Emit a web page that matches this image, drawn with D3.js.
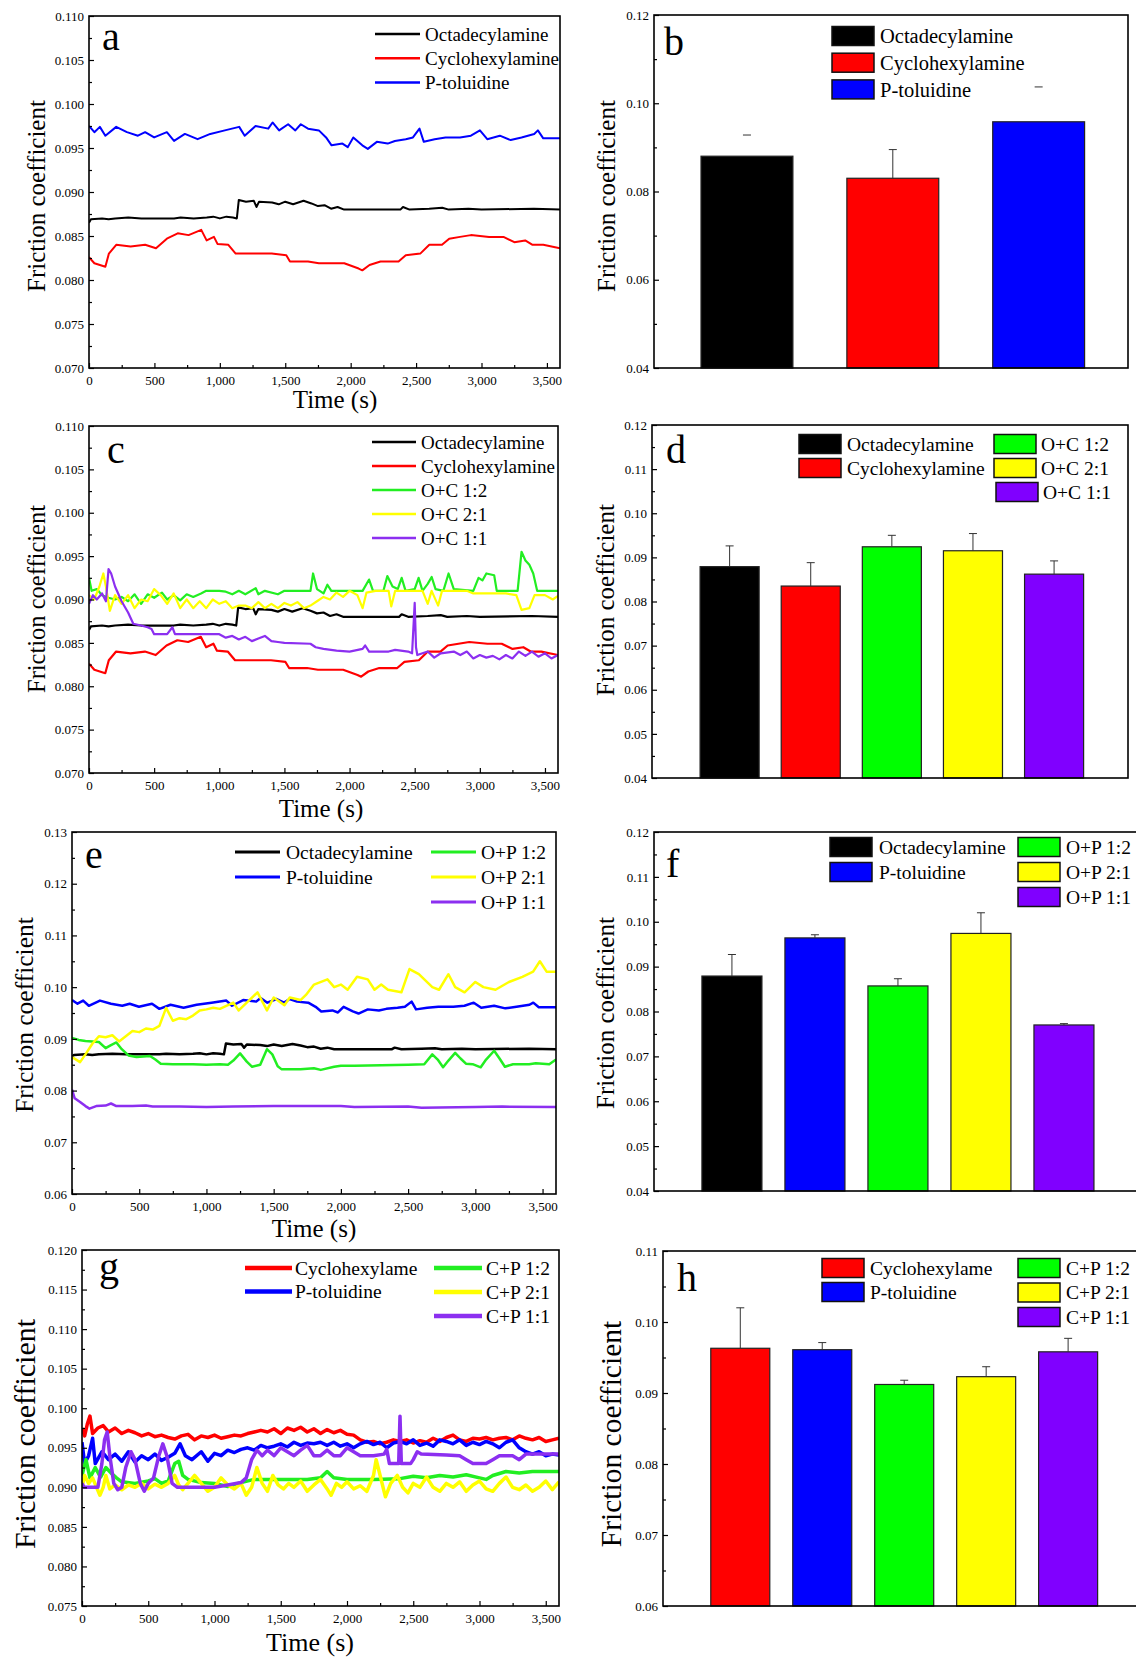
<!DOCTYPE html>
<html>
<head>
<meta charset="utf-8">
<script src="https://cdn.jsdelivr.net/npm/d3@7"></script>
<style>
body { margin: 0; background: #fff; }
svg text { font-family: "Liberation Serif", "Times New Roman", serif; fill: #000; }
</style>
</head>
<body>
<svg id="fig" width="1136" height="1657"></svg>
<script>
// ---- time series: [time (s), friction coefficient] ----
var octaData = [[0,0.0865],[15,0.0869],[100,0.0870],[150,0.0869],[200,0.0870],[300,0.0871],[400,0.0870],[650,0.0870],[700,0.0871],[800,0.0870],[900,0.0871],[950,0.0872],[1000,0.0870],[1050,0.0872],[1100,0.0871],[1130,0.0870],[1145,0.0891],[1200,0.0889],[1260,0.0890],[1280,0.0883],[1300,0.0889],[1400,0.0888],[1450,0.0886],[1500,0.0889],[1560,0.0886],[1640,0.0890],[1700,0.0887],[1750,0.0884],[1800,0.0885],[1850,0.0881],[1900,0.0883],[1950,0.0880],[2380,0.0880],[2400,0.0883],[2450,0.0880],[2600,0.0881],[2700,0.0882],[2750,0.0880],[2900,0.0881],[3000,0.0880],[3400,0.0881],[3600,0.0880]];
var cycloData = [[0,0.0826],[41,0.0819],[125,0.0815],[152,0.0830],[208,0.0840],[318,0.0838],[429,0.0840],[512,0.0836],[595,0.0847],[678,0.0853],[761,0.0851],[858,0.0857],[899,0.0845],[955,0.0849],[982,0.0841],[1065,0.0840],[1121,0.0830],[1259,0.0830],[1397,0.0830],[1508,0.0828],[1536,0.0821],[1674,0.0821],[1757,0.0819],[1951,0.0819],[2061,0.0813],[2089,0.0811],[2144,0.0817],[2228,0.0821],[2366,0.0821],[2421,0.0828],[2532,0.0830],[2601,0.0840],[2698,0.0840],[2753,0.0847],[2836,0.0849],[2919,0.0851],[3058,0.0849],[3168,0.0849],[3251,0.0843],[3334,0.0845],[3390,0.0840],[3472,0.0840],[3600,0.0836]];
var ptolData = [[0,0.0975],[41,0.0968],[83,0.0974],[125,0.0964],[208,0.0974],[290,0.0968],[374,0.0964],[429,0.0968],[498,0.0962],[595,0.0968],[650,0.0958],[733,0.0966],[830,0.0960],[927,0.0966],[1038,0.0970],[1148,0.0974],[1190,0.0964],[1273,0.0975],[1370,0.0972],[1403,0.0979],[1453,0.0970],[1522,0.0977],[1577,0.0970],[1619,0.0977],[1674,0.0972],[1757,0.0970],[1812,0.0962],[1854,0.0953],[1937,0.0955],[1978,0.0951],[2020,0.0962],[2089,0.0953],[2131,0.0949],[2200,0.0957],[2283,0.0955],[2338,0.0958],[2421,0.0960],[2476,0.0962],[2526,0.0972],[2559,0.0957],[2642,0.0960],[2725,0.0962],[2836,0.0962],[2919,0.0964],[2988,0.0970],[3044,0.0960],[3140,0.0964],[3223,0.0959],[3306,0.0962],[3403,0.0966],[3431,0.0970],[3472,0.0961],[3600,0.0961]];

var oc12Data = [[0,0.0925],[20,0.0910],[60,0.0912],[100,0.0905],[150,0.0902],[200,0.0900],[250,0.0903],[300,0.0898],[350,0.0906],[400,0.0895],[450,0.0906],[500,0.0902],[560,0.0908],[600,0.0900],[650,0.0905],[700,0.0899],[750,0.0906],[800,0.0903],[860,0.0907],[900,0.0910],[1000,0.0910],[1050,0.0909],[1100,0.0906],[1150,0.0910],[1200,0.0906],[1280,0.0913],[1300,0.0906],[1350,0.0910],[1450,0.0906],[1500,0.0910],[1700,0.0910],[1720,0.0930],[1750,0.0912],[1800,0.0907],[1830,0.0917],[1860,0.0910],[2100,0.0910],[2150,0.0923],[2180,0.0910],[2260,0.0910],[2290,0.0927],[2330,0.0915],[2370,0.0912],[2400,0.0925],[2430,0.0910],[2500,0.0912],[2530,0.0925],[2560,0.0910],[2600,0.0918],[2630,0.0926],[2660,0.0912],[2720,0.0910],[2760,0.0930],[2800,0.0912],[2950,0.0910],[2990,0.0925],[3020,0.0922],[3050,0.0930],[3110,0.0928],[3130,0.0910],[3290,0.0910],[3320,0.0955],[3350,0.0945],[3380,0.0940],[3410,0.0930],[3440,0.0910],[3600,0.0910]];
var oc21Data = [[0,0.0905],[40,0.0900],[80,0.0915],[110,0.0930],[130,0.0915],[160,0.0887],[200,0.0905],[250,0.0895],[300,0.0905],[350,0.0890],[400,0.0900],[450,0.0898],[500,0.0912],[550,0.0905],[600,0.0895],[650,0.0907],[700,0.0890],[750,0.0900],[800,0.0890],[850,0.0898],[900,0.0890],[950,0.0900],[1000,0.0895],[1050,0.0898],[1100,0.0890],[1150,0.0893],[1200,0.0893],[1250,0.0890],[1300,0.0897],[1350,0.0890],[1400,0.0895],[1450,0.0890],[1500,0.0896],[1550,0.0893],[1600,0.0897],[1650,0.0890],[1700,0.0893],[1750,0.0898],[1800,0.0903],[1850,0.0900],[1900,0.0908],[1950,0.0903],[2000,0.0910],[2060,0.0905],[2100,0.0890],[2130,0.0908],[2200,0.0910],[2300,0.0910],[2320,0.0892],[2350,0.0910],[2560,0.0910],[2600,0.0895],[2630,0.0910],[2680,0.0893],[2710,0.0910],[2900,0.0910],[2950,0.0907],[3200,0.0907],[3280,0.0905],[3320,0.0888],[3380,0.0890],[3420,0.0905],[3500,0.0905],[3560,0.0900],[3600,0.0904]];
var oc11Data = [[0,0.0895],[30,0.0905],[60,0.0900],[100,0.0907],[130,0.0898],[150,0.0935],[170,0.0930],[200,0.0915],[250,0.0898],[300,0.0885],[340,0.0872],[400,0.0870],[450,0.0868],[480,0.0866],[500,0.0860],[600,0.0860],[640,0.0868],[660,0.0860],[1000,0.0860],[1050,0.0856],[1100,0.0858],[1150,0.0854],[1200,0.0857],[1250,0.0852],[1300,0.0855],[1350,0.0858],[1400,0.0852],[1450,0.0851],[1500,0.0850],[1700,0.0849],[1740,0.0845],[1800,0.0843],[1900,0.0841],[2000,0.0840],[2100,0.0843],[2120,0.0847],[2150,0.0840],[2300,0.0840],[2350,0.0842],[2450,0.0840],[2480,0.0838],[2500,0.0896],[2510,0.0845],[2520,0.0836],[2600,0.0840],[2650,0.0833],[2700,0.0838],[2800,0.0840],[2850,0.0836],[2900,0.0840],[2950,0.0832],[3000,0.0836],[3050,0.0833],[3100,0.0835],[3150,0.0831],[3200,0.0836],[3250,0.0832],[3300,0.0840],[3350,0.0835],[3400,0.0840],[3450,0.0834],[3500,0.0838],[3550,0.0832],[3600,0.0836]];

var op12Data = [[0,0.0902],[50,0.0898],[100,0.0896],[150,0.0895],[200,0.0894],[250,0.0882],[290,0.0888],[330,0.0893],[370,0.0880],[420,0.0868],[480,0.0865],[530,0.0866],[580,0.0867],[620,0.0860],[660,0.0852],[750,0.0851],[900,0.0851],[1000,0.0850],[1100,0.0851],[1160,0.0850],[1200,0.0858],[1250,0.0872],[1300,0.0856],[1340,0.0846],[1400,0.0850],[1450,0.0880],[1490,0.0870],[1530,0.0847],[1560,0.0841],[1700,0.0841],[1800,0.0843],[1850,0.0840],[1950,0.0846],[2000,0.0848],[2100,0.0848],[2300,0.0849],[2500,0.0850],[2620,0.0851],[2680,0.0870],[2720,0.0860],[2760,0.0845],[2800,0.0858],[2850,0.0873],[2890,0.0862],[2930,0.0852],[2980,0.0851],[3040,0.0845],[3080,0.0860],[3140,0.0877],[3180,0.0862],[3220,0.0846],[3280,0.0851],[3400,0.0851],[3450,0.0853],[3550,0.0851],[3600,0.0860]];
var op21Data = [[0,0.0865],[60,0.0855],[100,0.0870],[150,0.0890],[200,0.0905],[250,0.0903],[300,0.0907],[350,0.0895],[400,0.0905],[450,0.0915],[500,0.0913],[550,0.0920],[600,0.0918],[650,0.0925],[700,0.0960],[750,0.0935],[800,0.0940],[850,0.0938],[900,0.0945],[950,0.0955],[1000,0.0957],[1050,0.0960],[1100,0.0958],[1200,0.0970],[1240,0.0955],[1300,0.0970],[1380,0.0990],[1450,0.0955],[1500,0.0980],[1580,0.0965],[1620,0.0980],[1700,0.0975],[1740,0.0985],[1800,0.1005],[1900,0.1015],[1950,0.1000],[2000,0.1005],[2050,0.0995],[2120,0.1020],[2200,0.1015],[2250,0.0995],[2300,0.1005],[2350,0.0995],[2450,0.0990],[2510,0.1035],[2580,0.1025],[2680,0.1000],[2730,0.0995],[2800,0.1025],[2850,0.1000],[2920,0.0990],[3000,0.1010],[3060,0.1000],[3150,0.0995],[3250,0.1010],[3350,0.1020],[3430,0.1030],[3480,0.1050],[3530,0.1030],[3600,0.1030]];
var op11Data = [[0,0.0802],[20,0.0785],[60,0.0778],[100,0.0770],[130,0.0765],[180,0.0770],[250,0.0771],[290,0.0775],[330,0.0770],[450,0.0770],[550,0.0771],[600,0.0769],[800,0.0769],[1000,0.0768],[1200,0.0769],[1500,0.0770],[2000,0.0770],[2100,0.0768],[2500,0.0769],[2600,0.0767],[3000,0.0768],[3200,0.0769],[3600,0.0768]];

var cyc2Data = [[0,0.0975],[20,0.0965],[40,0.0980],[60,0.0990],[80,0.0968],[120,0.0975],[160,0.0978],[200,0.0970],[250,0.0975],[300,0.0968],[350,0.0972],[400,0.0969],[450,0.0965],[500,0.0968],[550,0.0964],[600,0.0966],[650,0.0963],[700,0.0961],[750,0.0965],[800,0.0967],[850,0.0960],[900,0.0965],[950,0.0963],[1000,0.0966],[1050,0.0962],[1100,0.0964],[1150,0.0966],[1200,0.0965],[1250,0.0968],[1300,0.0970],[1350,0.0972],[1400,0.0970],[1450,0.0974],[1500,0.0968],[1550,0.0975],[1600,0.0972],[1650,0.0976],[1700,0.0970],[1750,0.0974],[1800,0.0968],[1850,0.0973],[1900,0.0969],[1950,0.0972],[2000,0.0967],[2050,0.0966],[2100,0.0960],[2150,0.0957],[2200,0.0958],[2250,0.0955],[2300,0.0957],[2350,0.0960],[2400,0.0958],[2450,0.0960],[2500,0.0956],[2550,0.0959],[2600,0.0957],[2650,0.0962],[2700,0.0958],[2750,0.0963],[2800,0.0966],[2850,0.0960],[2900,0.0958],[2950,0.0962],[3000,0.0961],[3050,0.0963],[3100,0.0960],[3150,0.0962],[3200,0.0963],[3250,0.0960],[3300,0.0965],[3350,0.0962],[3400,0.0960],[3450,0.0963],[3500,0.0958],[3550,0.0960],[3600,0.0962]];
var ptol2Data = [[0,0.0957],[20,0.0930],[50,0.0940],[80,0.0962],[100,0.0930],[150,0.0945],[200,0.0935],[250,0.0942],[300,0.0933],[350,0.0945],[400,0.0932],[450,0.0940],[500,0.0935],[550,0.0942],[600,0.0934],[650,0.0938],[700,0.0943],[740,0.0955],[780,0.0940],[830,0.0935],[900,0.0945],[950,0.0933],[1000,0.0943],[1050,0.0940],[1100,0.0947],[1150,0.0944],[1200,0.0948],[1250,0.0950],[1300,0.0947],[1350,0.0953],[1400,0.0950],[1450,0.0952],[1500,0.0955],[1550,0.0951],[1600,0.0957],[1650,0.0953],[1700,0.0956],[1750,0.0955],[1800,0.0957],[1850,0.0953],[1900,0.0957],[1950,0.0952],[2000,0.0955],[2050,0.0950],[2100,0.0955],[2150,0.0958],[2200,0.0954],[2250,0.0957],[2300,0.0950],[2350,0.0956],[2400,0.0958],[2450,0.0955],[2500,0.0960],[2550,0.0953],[2600,0.0956],[2650,0.0952],[2700,0.0960],[2750,0.0958],[2800,0.0955],[2850,0.0960],[2900,0.0953],[2950,0.0957],[3000,0.0954],[3050,0.0958],[3100,0.0955],[3150,0.0950],[3200,0.0957],[3250,0.0960],[3300,0.0950],[3350,0.0945],[3400,0.0942],[3450,0.0945],[3500,0.0940],[3550,0.0942],[3600,0.0941]];
var cp12Data = [[0,0.0915],[30,0.0935],[60,0.0912],[100,0.0925],[140,0.0913],[180,0.0925],[220,0.0918],[260,0.0912],[300,0.0907],[400,0.0905],[500,0.0908],[550,0.0911],[600,0.0905],[650,0.0908],[700,0.0930],[730,0.0933],[760,0.0915],[800,0.0910],[900,0.0906],[1000,0.0905],[1100,0.0901],[1200,0.0906],[1300,0.0910],[1500,0.0910],[1700,0.0910],[1800,0.0912],[1850,0.0920],[1900,0.0912],[2000,0.0910],[2200,0.0910],[2400,0.0911],[2500,0.0914],[2600,0.0912],[2700,0.0915],[2800,0.0913],[2900,0.0916],[3000,0.0912],[3050,0.0910],[3100,0.0915],[3200,0.0920],[3300,0.0918],[3400,0.0920],[3600,0.0920]];
var cp21Data = [[0,0.0900],[20,0.0915],[50,0.0905],[80,0.0912],[110,0.0900],[135,0.0890],[160,0.0900],[180,0.0915],[210,0.0898],[250,0.0903],[300,0.0897],[350,0.0903],[400,0.0900],[450,0.0905],[500,0.0898],[550,0.0904],[600,0.0900],[650,0.0905],[700,0.0915],[730,0.0903],[760,0.0897],[800,0.0905],[850,0.0915],[900,0.0905],[950,0.0895],[1000,0.0900],[1050,0.0912],[1100,0.0903],[1150,0.0898],[1200,0.0905],[1240,0.0890],[1280,0.0900],[1320,0.0925],[1360,0.0905],[1400,0.0895],[1440,0.0915],[1480,0.0903],[1520,0.0898],[1560,0.0905],[1600,0.0900],[1650,0.0908],[1700,0.0895],[1750,0.0903],[1800,0.0910],[1850,0.0898],[1880,0.0890],[1920,0.0905],[1960,0.0900],[2000,0.0907],[2050,0.0898],[2100,0.0902],[2150,0.0895],[2200,0.0915],[2220,0.0935],[2250,0.0915],[2290,0.0888],[2330,0.0905],[2380,0.0915],[2420,0.0900],[2460,0.0893],[2500,0.0905],[2550,0.0900],[2600,0.0913],[2650,0.0900],[2700,0.0895],[2750,0.0905],[2800,0.0900],[2850,0.0907],[2900,0.0895],[2950,0.0903],[3000,0.0908],[3050,0.0898],[3100,0.0895],[3150,0.0905],[3200,0.0913],[3250,0.0900],[3300,0.0897],[3350,0.0903],[3400,0.0895],[3450,0.0900],[3500,0.0908],[3550,0.0897],[3600,0.0907]];
var cp11Data = [[0,0.0905],[15,0.0900],[120,0.0900],[150,0.0930],[170,0.0960],[190,0.0970],[210,0.0940],[240,0.0905],[270,0.0897],[300,0.0900],[330,0.0925],[370,0.0945],[400,0.0935],[440,0.0905],[470,0.0895],[500,0.0905],[540,0.0912],[580,0.0940],[610,0.0955],[640,0.0940],[680,0.0905],[720,0.0900],[1000,0.0900],[1100,0.0903],[1200,0.0906],[1240,0.0912],[1280,0.0935],[1320,0.0947],[1360,0.0940],[1400,0.0947],[1450,0.0940],[1500,0.0950],[1550,0.0945],[1600,0.0940],[1650,0.0947],[1700,0.0953],[1750,0.0940],[1800,0.0940],[1850,0.0947],[1900,0.0940],[1950,0.0940],[2000,0.0950],[2050,0.0945],[2100,0.0940],[2200,0.0940],[2280,0.0942],[2300,0.0948],[2320,0.0930],[2390,0.0930],[2400,0.0990],[2410,0.0930],[2480,0.0930],[2500,0.0935],[2530,0.0945],[2560,0.0942],[2750,0.0941],[2850,0.0940],[2900,0.0935],[2950,0.0930],[3050,0.0930],[3100,0.0935],[3150,0.0940],[3250,0.0940],[3300,0.0935],[3350,0.0942],[3600,0.0942]];

// ---- bar charts: mean and upper error value ----
var namesB = ["Octadecylamine", "Cyclohexylamine", "P-toluidine"];
var meansB = [0.0880, 0.0830, 0.0958];
var errTopB = [0.0928, 0.0895, 0.1037];
var stemB = [false, true, false];

var namesD = ["Octadecylamine", "Cyclohexylamine", "O+C 1:2", "O+C 2:1", "O+C 1:1"];
var meansD = [0.0879, 0.0835, 0.0924, 0.0915, 0.0862];
var errTopD = [0.0926, 0.0888, 0.0950, 0.0954, 0.0892];

var namesF = ["Octadecylamine", "P-toluidine", "O+P 1:2", "O+P 2:1", "O+P 1:1"];
var meansF = [0.0879, 0.0964, 0.0857, 0.0974, 0.0770];
var errTopF = [0.0927, 0.0971, 0.0873, 0.1020, 0.0773];

var namesH = ["Cyclohexylame", "P-toluidine", "C+P 1:2", "C+P 2:1", "C+P 1:1"];
var meansH = [0.0963, 0.0961, 0.0912, 0.0923, 0.0958];
var errTopH = [0.1020, 0.0971, 0.0918, 0.0937, 0.0977];

var BLACK = "#000000", RED = "#ff0000", BLUE = "#0000ff", GREEN = "#00ff00", YELLOW = "#ffff00", PURPLE = "#8000ff";
var LGREEN = "#22ee22", LPURPLE = "#8c2ff0";
var SERIF = '"Liberation Serif", "Times New Roman", serif';

var svg = d3.select("#fig");
var fmtT = d3.format(",");

function scaled(arr, k) { return arr.map(function(v) { return v / k; }); }

function drawAxes(g, box, x, y, yMajor, yMinor, yFmt, xMajor, xMinor) {
    var yAx = g.append("g").attr("transform", "translate(" + box.l + ",0)")
        .call(d3.axisLeft(y).tickValues(yMajor).tickFormat(yFmt).tickSizeInner(-5).tickSizeOuter(0).tickPadding(5));
    yAx.select(".domain").remove();
    yAx.attr("font-family", SERIF).attr("font-size", 13);
    var yMin = g.append("g").attr("transform", "translate(" + box.l + ",0)")
        .call(d3.axisLeft(y).tickValues(yMinor).tickFormat("").tickSizeInner(-3).tickSizeOuter(0));
    yMin.select(".domain").remove();
    if (x) {
        var xAx = g.append("g").attr("transform", "translate(0," + box.b + ")")
            .call(d3.axisBottom(x).tickValues(xMajor).tickFormat(fmtT).tickSizeInner(-5).tickSizeOuter(0).tickPadding(8));
        xAx.select(".domain").remove();
        xAx.attr("font-family", SERIF).attr("font-size", 13);
        var xMin = g.append("g").attr("transform", "translate(0," + box.b + ")")
            .call(d3.axisBottom(x).tickValues(xMinor).tickFormat("").tickSizeInner(-3).tickSizeOuter(0));
        xMin.select(".domain").remove();
    }
    g.selectAll(".tick line").attr("stroke-width", 1.2);
    g.selectAll(".tick text").attr("font-family", SERIF);
    g.append("rect").attr("x", box.l).attr("y", box.t)
        .attr("width", box.r - box.l).attr("height", box.b - box.t)
        .attr("fill", "none").attr("stroke", "#000").attr("stroke-width", 1.6);
}

function yTitle(g, x, y, size) {
    g.append("text").attr("transform", "translate(" + x + "," + y + ") rotate(-90)")
        .attr("text-anchor", "middle").attr("font-family", SERIF).attr("font-size", size).text("Friction coefficient");
}

function panelLetter(g, p) {
    g.append("text").attr("x", p[0]).attr("y", p[1]).attr("font-family", SERIF).attr("font-size", 40).text(p[2]);
}

function drawLinePanel(p) {
    var g = svg.append("g");
    var x = d3.scaleLinear().domain([0, 3600]).range([p.box.l, p.box.r]);
    var y = d3.scaleLinear().domain(p.yDomain).range([p.box.b, p.box.t]);
    var clipId = "clip-" + p.letter[2];
    g.append("clipPath").attr("id", clipId).append("rect")
        .attr("x", p.box.l).attr("y", p.box.t).attr("width", p.box.r - p.box.l).attr("height", p.box.b - p.box.t);
    var line = d3.line().x(function(d) { return x(d[0]); }).y(function(d) { return y(d[1]); });
    g.append("g").attr("clip-path", "url(#" + clipId + ")")
        .selectAll("path").data(p.series).enter().append("path")
        .attr("d", function(s) { return line(s.data); })
        .attr("fill", "none").attr("stroke", function(s) { return s.color; })
        .attr("stroke-width", p.lw).attr("stroke-linejoin", "round");
    drawAxes(g, p.box, x, y, p.yMajor, p.yMinor, d3.format(p.yFmt),
        d3.range(0, 3501, 500), d3.range(250, 3600, 500));
    // legend
    p.legend.forEach(function(col) {
        col.items.forEach(function(idx, i) {
            var s = p.series[idx];
            var yy = col.y0 + i * col.dy;
            g.append("line").attr("x1", col.x0).attr("x2", col.x1).attr("y1", yy).attr("y2", yy)
                .attr("stroke", s.color).attr("stroke-width", p.legendLw);
            g.append("text").attr("x", col.tx).attr("y", yy).attr("dy", "0.35em")
                .attr("font-family", SERIF).attr("font-size", p.legendFont).text(s.name);
        });
    });
    g.append("text").attr("x", p.timeLabel[0]).attr("y", p.timeLabel[1])
        .attr("text-anchor", "middle").attr("font-family", SERIF).attr("font-size", p.timeLabel[2]).text("Time (s)");
    yTitle(g, p.yLabel[0], p.yLabel[1], p.yLabel[2]);
    panelLetter(g, p.letter);
}

function drawBarPanel(p) {
    var g = svg.append("g");
    var x = d3.scaleBand().domain(p.names).range([p.box.l, p.box.r])
        .paddingInner(p.pad[0]).paddingOuter(p.pad[1]).align(p.pad[2]);
    var y = d3.scaleLinear().domain(p.yDomain).range([p.box.b, p.box.t]);
    var rows = p.names.map(function(n, i) {
        return { name: n, mean: p.means[i], top: p.tops[i], color: p.colors[i], stem: p.stems ? p.stems[i] : true };
    });
    g.selectAll("rect.bar").data(rows).enter().append("rect").attr("class", "bar")
        .attr("x", function(d) { return x(d.name); }).attr("width", x.bandwidth())
        .attr("y", function(d) { return y(d.mean); })
        .attr("height", function(d) { return p.box.b - y(d.mean); })
        .attr("fill", function(d) { return d.color; })
        .attr("stroke", "#222").attr("stroke-width", 1.2);
    var eb = g.selectAll("g.err").data(rows).enter().append("g").attr("class", "err");
    eb.filter(function(d) { return d.stem; }).append("line")
        .attr("x1", function(d) { return x(d.name) + x.bandwidth() / 2; })
        .attr("x2", function(d) { return x(d.name) + x.bandwidth() / 2; })
        .attr("y1", function(d) { return y(d.mean); }).attr("y2", function(d) { return y(d.top); })
        .attr("stroke", "#333").attr("stroke-width", 1);
    eb.append("line")
        .attr("x1", function(d) { return x(d.name) + x.bandwidth() / 2 - 4; })
        .attr("x2", function(d) { return x(d.name) + x.bandwidth() / 2 + 4; })
        .attr("y1", function(d) { return y(d.top); }).attr("y2", function(d) { return y(d.top); })
        .attr("stroke", "#333").attr("stroke-width", 1);
    drawAxes(g, p.box, null, y, p.yMajor, p.yMinor, d3.format(".2f"));
    p.legend.forEach(function(col) {
        col.items.forEach(function(idx, i) {
            var yy = col.y0 + i * col.dy;
            g.append("rect").attr("x", col.sx + (col.shift && i === 2 ? col.shift : 0)).attr("y", yy - 9.5)
                .attr("width", 42).attr("height", 19)
                .attr("fill", p.colors[idx]).attr("stroke", "#111").attr("stroke-width", 1.5);
            g.append("text").attr("x", col.tx + (col.shift && i === 2 ? col.shift : 0)).attr("y", yy).attr("dy", "0.35em")
                .attr("font-family", SERIF).attr("font-size", p.legendFont).text(p.names[idx]);
        });
    });
    yTitle(g, p.yLabel[0], p.yLabel[1], p.yLabel[2]);
    panelLetter(g, p.letter);
}

// ---- panel a ----
drawLinePanel({
    box: { l: 89, r: 560, t: 16, b: 368 },
    yDomain: [0.070, 0.110], yFmt: ".3f",
    yMajor: scaled(d3.range(70, 111, 5), 1000), yMinor: scaled(d3.range(72.5, 110, 5), 1000),
    series: [
        { name: "Octadecylamine", color: BLACK, data: octaData },
        { name: "Cyclohexylamine", color: RED, data: cycloData },
        { name: "P-toluidine", color: BLUE, data: ptolData }
    ],
    lw: 2, legendLw: 2.5, legendFont: 19,
    legend: [{ items: [0, 1, 2], x0: 375, x1: 420, tx: 425, y0: 34, dy: 24.3 }],
    timeLabel: [335, 408, 25], yLabel: [45, 196, 25], letter: [102, 50, "a"]
});

// ---- panel b ----
drawBarPanel({
    box: { l: 654, r: 1128, t: 15, b: 368 },
    names: namesB, means: meansB, tops: errTopB, stems: stemB, colors: [BLACK, RED, BLUE],
    pad: [0.37, 0.31, 0.52],
    yDomain: [0.04, 0.12], yMajor: scaled(d3.range(4, 13, 2), 100), yMinor: scaled(d3.range(5, 12, 2), 100),
    legendFont: 20.5,
    legend: [{ items: [0, 1, 2], sx: 832, tx: 880, y0: 36, dy: 26.7 }],
    yLabel: [615, 196, 25], letter: [664, 55, "b"]
});

// ---- panel c ----
drawLinePanel({
    box: { l: 89, r: 558, t: 426, b: 773 },
    yDomain: [0.070, 0.110], yFmt: ".3f",
    yMajor: scaled(d3.range(70, 111, 5), 1000), yMinor: scaled(d3.range(72.5, 110, 5), 1000),
    series: [
        { name: "Octadecylamine", color: BLACK, data: octaData },
        { name: "Cyclohexylamine", color: RED, data: cycloData },
        { name: "O+C 1:2", color: LGREEN, data: oc12Data },
        { name: "O+C 2:1", color: YELLOW, data: oc21Data },
        { name: "O+C 1:1", color: LPURPLE, data: oc11Data }
    ],
    lw: 2.2, legendLw: 2.5, legendFont: 19,
    legend: [{ items: [0, 1, 2, 3, 4], x0: 372, x1: 416, tx: 421, y0: 442, dy: 24 }],
    timeLabel: [321, 817, 25], yLabel: [45, 599, 24.5], letter: [107, 463, "c"]
});

// ---- panel d ----
drawBarPanel({
    box: { l: 652, r: 1128, t: 425, b: 778 },
    names: namesD, means: meansD, tops: errTopD, colors: [BLACK, RED, GREEN, YELLOW, PURPLE],
    pad: [0.272, 0.57, 0.52],
    yDomain: [0.04, 0.12], yMajor: scaled(d3.range(4, 13, 1), 100), yMinor: scaled(d3.range(4.5, 12, 1), 100),
    legendFont: 19.5,
    legend: [
        { items: [0, 1], sx: 799, tx: 847, y0: 444, dy: 24 },
        { items: [2, 3, 4], sx: 994, tx: 1041, y0: 444, dy: 24, shift: 2 }
    ],
    yLabel: [614, 600, 25], letter: [666, 463, "d"]
});

// ---- panel e ----
drawLinePanel({
    box: { l: 72, r: 556, t: 832, b: 1194 },
    yDomain: [0.06, 0.13], yFmt: ".2f",
    yMajor: scaled(d3.range(6, 14, 1), 100), yMinor: scaled(d3.range(6.5, 13, 1), 100),
    series: [
        { name: "Octadecylamine", color: BLACK, data: octaData },
        { name: "P-toluidine", color: BLUE, data: ptolData },
        { name: "O+P 1:2", color: LGREEN, data: op12Data },
        { name: "O+P 2:1", color: YELLOW, data: op21Data },
        { name: "O+P 1:1", color: LPURPLE, data: op11Data }
    ],
    lw: 2.5, legendLw: 3, legendFont: 19.5,
    legend: [
        { items: [0, 1], x0: 235, x1: 280, tx: 286, y0: 852, dy: 25 },
        { items: [2, 3, 4], x0: 431, x1: 476, tx: 481, y0: 852, dy: 25 }
    ],
    timeLabel: [314, 1237, 25], yLabel: [33, 1015, 25.5], letter: [85, 868, "e"]
});

// ---- panel f ---- (right border sits past the image edge)
drawBarPanel({
    box: { l: 654, r: 1140, t: 832, b: 1191 },
    names: namesF, means: meansF, tops: errTopF, colors: [BLACK, BLUE, GREEN, YELLOW, PURPLE],
    pad: [0.277, 0.566, 0.51],
    yDomain: [0.04, 0.12], yMajor: scaled(d3.range(4, 13, 1), 100), yMinor: scaled(d3.range(4.5, 12, 1), 100),
    legendFont: 19.5,
    legend: [
        { items: [0, 1], sx: 830, tx: 879, y0: 847, dy: 25 },
        { items: [2, 3, 4], sx: 1018, tx: 1066, y0: 847, dy: 25 }
    ],
    yLabel: [614, 1013, 25], letter: [666, 877, "f"]
});

// ---- panel g ----
drawLinePanel({
    box: { l: 82, r: 559, t: 1250, b: 1606 },
    yDomain: [0.075, 0.120], yFmt: ".3f",
    yMajor: scaled(d3.range(75, 121, 5), 1000), yMinor: scaled(d3.range(77.5, 120, 5), 1000),
    series: [
        { name: "Cyclohexylame", color: RED, data: cyc2Data },
        { name: "P-toluidine", color: BLUE, data: ptol2Data },
        { name: "C+P 1:2", color: LGREEN, data: cp12Data },
        { name: "C+P 2:1", color: YELLOW, data: cp21Data },
        { name: "C+P 1:1", color: LPURPLE, data: cp11Data }
    ],
    lw: 3.5, legendLw: 4.5, legendFont: 19.5,
    legend: [
        { items: [0, 1], x0: 245, x1: 292, tx: 295, y0: 1268, dy: 23.5 },
        { items: [2, 3, 4], x0: 434, x1: 482, tx: 486, y0: 1268, dy: 24 }
    ],
    timeLabel: [310, 1651, 26], yLabel: [35, 1434, 30], letter: [99, 1280, "g"]
});

// ---- panel h ---- (right border sits past the image edge)
drawBarPanel({
    box: { l: 663, r: 1140, t: 1251, b: 1606 },
    names: namesH, means: meansH, tops: errTopH, colors: [RED, BLUE, GREEN, YELLOW, PURPLE],
    pad: [0.28, 0.55, 0.53],
    yDomain: [0.06, 0.11], yMajor: scaled(d3.range(6, 12, 1), 100), yMinor: scaled(d3.range(6.5, 11, 1), 100),
    legendFont: 19.5,
    legend: [
        { items: [0, 1], sx: 822, tx: 870, y0: 1268, dy: 24 },
        { items: [2, 3, 4], sx: 1018, tx: 1066, y0: 1268, dy: 24.5 }
    ],
    yLabel: [621, 1434, 29.5], letter: [677, 1291, "h"]
});
</script>
</body>
</html>
